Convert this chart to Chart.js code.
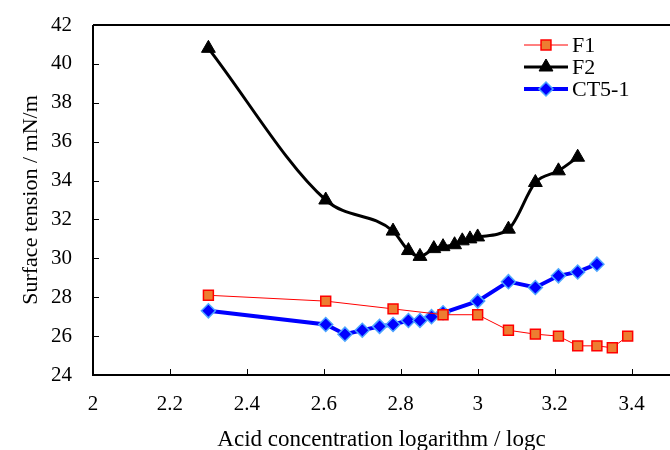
<!DOCTYPE html>
<html>
<head>
<meta charset="utf-8">
<script src="https://cdn.jsdelivr.net/npm/chart.js@4/dist/chart.umd.min.js"></script>
<style>
  html, body { margin: 0; padding: 0; background: #fff; }
  #wrap { width: 670px; height: 450px; }
</style>
</head>
<body>
<div id="wrap"><canvas id="myChart" width="670" height="450"></canvas></div>
<script>
// data
var f1X = [2.30, 2.605, 2.78, 2.91, 3.00, 3.08, 3.15, 3.21, 3.26, 3.31, 3.35, 3.39];
var f1Y = [28.1, 27.8, 27.4, 27.1, 27.1, 26.3, 26.1, 26.0, 25.5, 25.5, 25.4, 26.0];

var f2X = [2.30, 2.605, 2.78, 2.82, 2.85, 2.886, 2.91, 2.94, 2.96, 2.98, 3.00, 3.08, 3.15, 3.21, 3.26];
var f2Y = [40.8, 33.0, 31.4, 30.4, 30.1, 30.5, 30.6, 30.7, 30.9, 31.0, 31.1, 31.5, 33.9, 34.5, 35.2];

var ctX = [2.30, 2.605, 2.655, 2.70, 2.745, 2.78, 2.82, 2.85, 2.88, 2.91, 3.00, 3.08, 3.15, 3.21, 3.26, 3.31];
var ctY = [27.3, 26.6, 26.1, 26.3, 26.5, 26.6, 26.8, 26.8, 27.0, 27.2, 27.8, 28.8, 28.5, 29.1, 29.3, 29.7];

var seriesNames = ['F1', 'F2', 'CT5-1'];
var xTicks = [2, 2.2, 2.4, 2.6, 2.8, 3, 3.2, 3.4];
var yTicks = [24, 26, 28, 30, 32, 34, 36, 38, 40, 42];
var xTitle = 'Acid concentration logarithm / logc';
var yTitle = 'Surface tension / mN/m';

var serif = "'Liberation Serif', 'DejaVu Serif', serif";

function toPoints(xs, ys) {
    let pts = [];
    for (let i = 0; i < xs.length; i++) {
        pts.push({x: xs[i], y: ys[i]});
    }
    return pts;
}

/**
 * Draws the frame, the inward tick marks and the line+marker legend
 */
var framePlugin = {
    id: 'frame',
    afterDraw: function (chart) {
        let ctx = chart.ctx;
        let a = chart.chartArea;
        let xs = chart.scales.x;
        let ys = chart.scales.y;
        ctx.save();
        ctx.strokeStyle = '#000';
        ctx.lineWidth = 2;
        ctx.beginPath();
        ctx.moveTo(a.left, a.top);
        ctx.lineTo(chart.width, a.top);
        ctx.moveTo(a.left, a.top);
        ctx.lineTo(a.left, a.bottom);
        ctx.lineTo(chart.width, a.bottom);
        ctx.stroke();

        // inward ticks
        ctx.lineWidth = 1;
        ctx.beginPath();
        xs.ticks.forEach(function (t) {
            if (t.value <= 2) return;
            let px = Math.round(xs.getPixelForValue(t.value)) + 0.5;
            ctx.moveTo(px, a.bottom);
            ctx.lineTo(px, a.bottom - 6);
        });
        ys.ticks.forEach(function (t) {
            if (t.value <= 24 || t.value >= 42) return;
            let py = Math.round(ys.getPixelForValue(t.value)) + 0.5;
            ctx.moveTo(a.left, py);
            ctx.lineTo(a.left + 6, py);
        });
        ctx.stroke();

        // legend
        let rows = [45, 67, 89];
        chart.data.datasets.forEach(function (ds, i) {
            let y = rows[i];
            ctx.strokeStyle = ds.borderColor;
            ctx.lineWidth = ds.borderWidth;
            ctx.beginPath();
            ctx.moveTo(524, y);
            ctx.lineTo(568, y);
            ctx.stroke();
            ctx.fillStyle = ds.pointBackgroundColor;
            ctx.strokeStyle = ds.pointBorderColor;
            ctx.lineWidth = ds.pointBorderWidth;
            Chart.helpers.drawPoint(ctx, {
                pointStyle: ds.pointStyle,
                radius: ds.pointRadius,
                borderWidth: ds.pointBorderWidth
            }, 546, y);
            ctx.fillStyle = '#000';
            ctx.font = '22px ' + serif;
            ctx.textBaseline = 'middle';
            ctx.textAlign = 'left';
            ctx.fillText(ds.label, 572, y + 1);
        });
        ctx.restore();
    }
};

function createChart(canvasId) {
    let ctx = document.getElementById(canvasId).getContext('2d');
    return new Chart(ctx, {
        type: 'scatter',
        data: {
            datasets: [
                {
                    label: seriesNames[0],
                    data: toPoints(f1X, f1Y),
                    showLine: true,
                    borderColor: '#ff0000',
                    borderWidth: 1,
                    pointStyle: 'rect',
                    pointRadius: 7,
                    pointBackgroundColor: '#ed7d31',
                    pointBorderColor: '#ff0000',
                    pointBorderWidth: 1.5
                },
                {
                    label: seriesNames[1],
                    data: toPoints(f2X, f2Y),
                    showLine: true,
                    cubicInterpolationMode: 'monotone',
                    borderColor: '#000000',
                    borderWidth: 3,
                    pointStyle: 'triangle',
                    pointRadius: 8,
                    pointBackgroundColor: '#000000',
                    pointBorderColor: '#000000',
                    pointBorderWidth: 1
                },
                {
                    label: seriesNames[2],
                    data: toPoints(ctX, ctY),
                    showLine: true,
                    borderColor: '#0000ff',
                    borderWidth: 4,
                    pointStyle: 'rectRot',
                    pointRadius: 7,
                    pointBackgroundColor: '#0000ff',
                    pointBorderColor: '#4da6ff',
                    pointBorderWidth: 1.5
                }
            ]
        },
        options: {
            animation: false,
            responsive: false,
            layout: {autoPadding: false, padding: {top: 25, right: 0, left: 14, bottom: 0}},
            plugins: {
                legend: {display: false},
                tooltip: {enabled: false}
            },
            scales: {
                x: {
                    type: 'linear',
                    min: 2,
                    max: 3.5,
                    grid: {display: false},
                    border: {display: false},
                    afterBuildTicks: function (scale) {
                        scale.ticks = xTicks.map(function (v) { return {value: v}; });
                    },
                    ticks: {
                        autoSkip: false,
                        color: '#000',
                        font: {family: serif, size: 21},
                        padding: 9,
                        maxRotation: 0,
                        callback: function (v) { return String(v); }
                    },
                    title: {
                        display: true,
                        text: xTitle,
                        color: '#000',
                        font: {family: serif, size: 23},
                        padding: {top: 12, bottom: -4}
                    },
                    afterFit: function (scale) {
                        scale.height = 75;
                        scale.paddingLeft = 0;
                        scale.paddingRight = 0;
                    }
                },
                y: {
                    min: 24,
                    max: 42,
                    grid: {display: false},
                    border: {display: false},
                    afterBuildTicks: function (scale) {
                        scale.ticks = yTicks.map(function (v) { return {value: v}; });
                    },
                    ticks: {
                        color: '#000',
                        font: {family: serif, size: 21},
                        padding: 13
                    },
                    title: {
                        display: true,
                        text: yTitle,
                        color: '#000',
                        font: {family: serif, size: 22},
                        padding: {bottom: 4}
                    },
                    afterFit: function (scale) {
                        scale.width = 79;
                        scale.paddingTop = 0;
                        scale.paddingBottom = 0;
                    }
                }
            }
        },
        plugins: [framePlugin]
    });
}

var chart = createChart('myChart');
</script>
</body>
</html>
